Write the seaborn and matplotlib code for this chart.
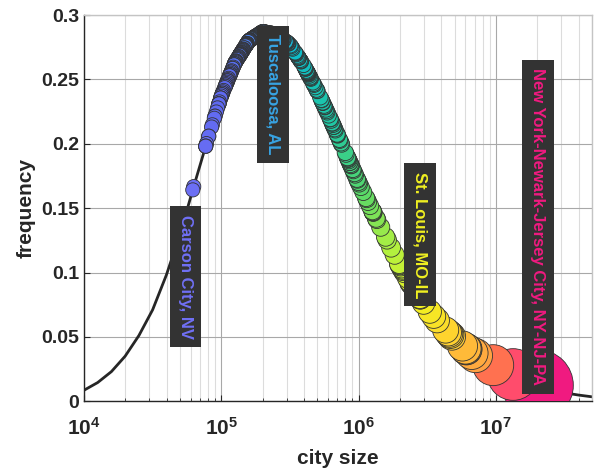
import numpy as np
import pandas as pd
import matplotlib
matplotlib.use('Agg')
import matplotlib.pyplot as plt
import seaborn as sns
from matplotlib.colors import LinearSegmentedColormap
from matplotlib.ticker import LogLocator, NullFormatter

# Fitted frequency curve (log10 city size -> frequency)
curve_log10 = [4.0, 4.1, 4.2, 4.3, 4.4, 4.5, 4.6, 4.7, 4.8, 4.9,
               5.0, 5.1, 5.2, 5.3, 5.4, 5.5, 5.6, 5.7, 5.8, 5.9,
               6.0, 6.1, 6.2, 6.3, 6.4, 6.5, 6.6, 6.7, 6.8, 6.9,
               7.0, 7.1, 7.2, 7.3, 7.4, 7.5, 7.6, 7.7]
curve_freq = [0.0085, 0.0145, 0.023, 0.035, 0.051, 0.071, 0.098, 0.130, 0.167, 0.203,
              0.237, 0.263, 0.280, 0.287, 0.285, 0.277, 0.261, 0.241, 0.218, 0.194,
              0.170, 0.148, 0.127, 0.106, 0.088, 0.072, 0.059, 0.048, 0.039, 0.032,
              0.027, 0.022, 0.017, 0.0125, 0.009, 0.0065, 0.0048, 0.0034]

# Metro area populations (thousands)
city_pop_k = [
    20182, 13340, 9551, 7102, 6657, 6098, 6069, 6012, 5710, 4774, 4656, 4575, 4489, 4302,
    3733, 3524, 3300, 2975, 2814, 2812, 2797, 2426, 2389, 2387, 2385, 2353, 2275, 2157,
    2115, 2087, 2061, 2022, 2001, 1989, 1977, 1831, 1725, 1613, 1575, 1449, 1358, 1344,
    1279, 1274, 1271, 1262, 1211, 1171, 1145, 1135, 1081, 1039, 1010,
    998, 981, 975, 945, 935, 915, 907, 882, 881, 874, 861, 861, 850, 842, 838, 832, 831,
    810, 800, 752, 745, 731, 726, 703, 701, 698, 677, 671, 660, 659, 650, 644, 642, 630,
    623, 622, 605, 591, 585, 578, 568, 566, 561, 549, 547, 547, 538, 536, 526, 501, 500,
    495, 484, 474, 470, 464, 449, 446, 443, 437, 432, 431, 429, 427, 426, 425, 424,
    423, 421, 418, 411, 410, 408, 406, 397, 381, 381, 379, 375, 367, 366, 365, 365,
    362, 358, 352, 349, 347, 345, 331, 327, 322, 319, 309, 308, 306, 302, 300, 299, 298,
    295, 295, 285, 284, 281, 279, 275, 274, 274, 274, 269, 264, 264, 262, 258, 256, 253,
    253, 253, 252, 252, 251, 250, 250, 248, 243, 239, 235, 233, 232, 231, 229, 228, 225,
    220, 216, 214, 211, 211, 211, 210, 210, 208, 208, 206, 203, 201, 201, 201, 200, 200,
    200, 199, 198, 195, 195, 193, 192, 189, 189, 186, 182, 181, 180, 178, 177, 177, 175,
    175, 173, 172, 172, 170, 169, 169, 168, 167, 166, 165, 162, 162, 161, 160, 160, 159,
    158, 157, 157, 157, 154, 154, 153, 153, 152, 152, 151, 151, 150, 150, 147, 147, 145,
    144, 144, 144, 143, 142, 141, 140, 140, 139, 138, 138, 138, 137, 137, 137, 136, 136,
    136, 134, 134, 133, 132, 131, 131, 130, 128, 128, 127, 127, 127, 126, 125, 125, 125,
    124, 124, 124, 122, 121, 121, 119, 118, 118, 117, 116, 116, 115, 115, 115, 113, 112,
    111, 111, 111, 110, 109, 108, 108, 107, 107, 106, 104, 103, 102, 102, 101, 101, 100,
    99, 99, 99, 97, 96, 96, 96, 96, 94, 92, 90, 90, 89, 86, 85, 81, 81, 78, 77, 77, 77,
    63, 62, 55]

label_names = ['Carson City, NV', 'Tuscaloosa, AL', 'St. Louis, MO-IL', 'New York-Newark-Jersey City, NY-NJ-PA']
label_pop_k = [55, 239, 2812, 20182]
label_va = ['top', 'top', 'bottom', 'bottom']

# colour ramp over log10 size
cmap_stops = [(0.00, '#7070f5'), (0.12, '#5a68f0'), (0.24, '#3ea0e6'), (0.30, '#0cbccc'),
              (0.42, '#22c8a0'), (0.50, '#58d868'), (0.58, '#b0f040'), (0.67, '#f2f020'),
              (0.75, '#ffd030'), (0.82, '#ffa840'), (0.88, '#ff7050'), (0.94, '#ff4870'),
              (1.00, '#f01a80')]
city_cmap = LinearSegmentedColormap.from_list('city_cmap', cmap_stops)
log_min, log_max = 4.74, 7.30

sns.set_theme(style='whitegrid')
plt.rcParams['font.family'] = ['Liberation Sans', 'DejaVu Sans']
plt.rcParams['font.weight'] = 'bold'
plt.rcParams['mathtext.fontset'] = 'custom'
plt.rcParams['mathtext.bf'] = 'Liberation Sans:bold'
plt.rcParams['mathtext.rm'] = 'Liberation Sans:bold'

pop = np.array(city_pop_k) * 1000.0
df = pd.DataFrame({'pop': pop, 'logp': np.log10(pop)})
df['freq'] = np.interp(df['logp'], curve_log10, curve_freq)
diam_px = 14 + 57 * df['pop'] / pop.max()
df['area'] = (diam_px * 0.72) ** 2
df = df.sort_values('pop', ascending=False).reset_index(drop=True)

fig = plt.figure(figsize=(6.04, 4.72), dpi=100)
ax = fig.add_axes([0.139, 0.150, 0.841, 0.818])
ax.set_xscale('log')

curve_size = [10 ** v for v in curve_log10]
sns.lineplot(x=curve_size, y=curve_freq, sort=False, color='#262626', lw=2, ax=ax, zorder=2)

sns.scatterplot(data=df, x='pop', y='freq', hue='logp', palette=city_cmap,
                hue_norm=(log_min, log_max), size='area',
                sizes=(df['area'].min(), df['area'].max()),
                edgecolor='#333333', linewidth=0.6, legend=False, ax=ax, zorder=3)

for name, pk, va in zip(label_names, label_pop_k, label_va):
    lp = np.log10(pk * 1000.0)
    c = city_cmap((lp - log_min) / (log_max - log_min))
    ax.text(pk * 1000.0, np.interp(lp, curve_log10, curve_freq), name, rotation=-90,
            ha='center', va=va, color=c, fontsize=12, fontweight='bold',
            bbox=dict(boxstyle='square,pad=0.5', fc='#333333', ec='none'), zorder=5)

ax.set_xlim(1e4, 5e7)
ax.set_ylim(0, 0.3)
ax.set_xticks([1e4, 1e5, 1e6, 1e7])
ax.set_xticklabels([r'$\mathbf{10^{4}}$', r'$\mathbf{10^{5}}$', r'$\mathbf{10^{6}}$', r'$\mathbf{10^{7}}$'])
ax.xaxis.set_minor_locator(LogLocator(base=10, subs=np.arange(2, 10)))
ax.xaxis.set_minor_formatter(NullFormatter())
ax.set_yticks([0, 0.05, 0.1, 0.15, 0.2, 0.25, 0.3])
ax.set_yticklabels(['0', '0.05', '0.1', '0.15', '0.2', '0.25', '0.3'])

ax.grid(which='major', axis='both', color='#a8a8a8', lw=0.8)
ax.grid(which='minor', axis='x', color='#dcdcdc', lw=0.8)
ax.set_axisbelow(True)
for side in ['left', 'bottom']:
    ax.spines[side].set_color('#262626')
    ax.spines[side].set_linewidth(1.0)
for side in ['top', 'right']:
    ax.spines[side].set_color('#c4c4c4')
    ax.spines[side].set_linewidth(1.0)

ax.tick_params(which='both', direction='in', bottom=True, left=True, top=False, right=False,
               color='#262626', labelcolor='#262626', labelsize=14)
ax.tick_params(axis='x', which='major', labelsize=15, pad=11)
ax.tick_params(which='major', length=4, width=0.8)
ax.tick_params(which='minor', length=2.5, width=0.6)

ax.set_xlabel('city size', fontsize=15, fontweight='bold', color='#262626', labelpad=8)
ax.set_ylabel('frequency', fontsize=15, fontweight='bold', color='#262626')

fig.savefig('out.png', dpi=100)
